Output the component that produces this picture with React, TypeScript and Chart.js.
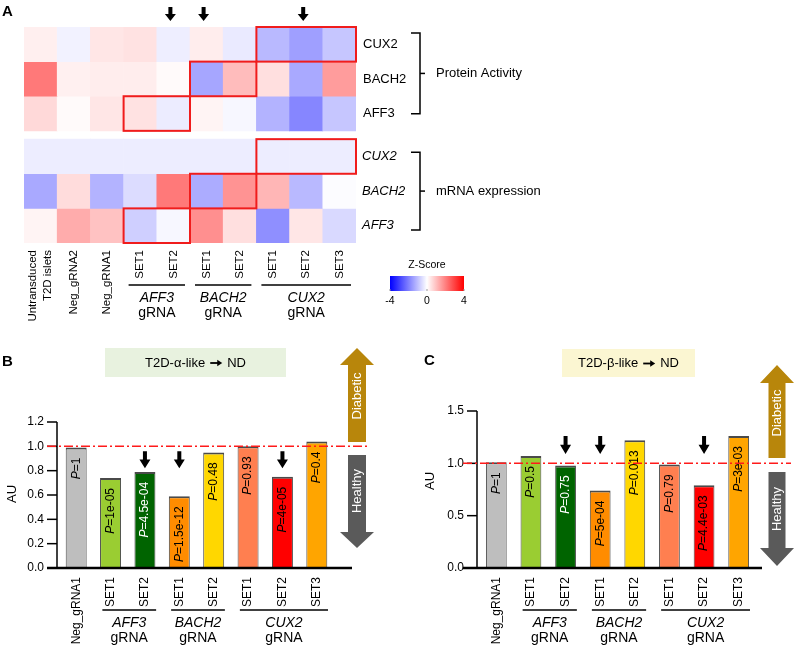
import React, { useEffect, useRef } from "react";
import { Chart, registerables } from "chart.js";

Chart.register(...registerables);

const FONT = '"Liberation Sans", Arial, Helvetica, sans-serif';
const W = 798;
const H = 662;

// ---------------- Panel A: heatmap data ----------------
const heatColumns = ["Untransduced\nT2D islets", "Neg_gRNA2", "Neg_gRNA1", "SET1", "SET2", "SET1", "SET2", "SET1", "SET2", "SET3"];
const heatRowLabels = ["CUX2", "BACH2", "AFF3"];
const proteinCUX2 = [0.25, -0.2, 0.4, 0.45, -0.27, 0.28, -0.33, -1.1, -1.5, -0.9];
const proteinBACH2 = [2.1, 0.24, 0.28, 0.28, 0.08, -1.4, 1.05, 0.5, -1.35, 1.55];
const proteinAFF3 = [0.6, 0.08, 0.4, 0.45, -0.3, 0.17, -0.13, -1.2, -1.9, -0.9];
const mrnaCUX2 = [-0.28, -0.28, -0.28, -0.28, -0.28, -0.28, -0.28, -0.28, -0.28, -0.28];
const mrnaBACH2 = [-1.35, 0.55, -1.2, -0.55, 2.1, -1.3, 1.7, 1.15, -1.1, -0.05];
const mrnaAFF3 = [0.17, 1.3, 0.95, -0.75, -0.12, 1.75, 0.5, -1.75, 0.4, -0.6];
const heatGroups = ["AFF3", "BACH2", "CUX2"];
const heatGroupStart = [3, 5, 7];
const heatGroupEnd = [4, 6, 9];
const heatArrowCols = [4, 5, 8];
const boxRows = [0, 1, 2, 3, 4, 5];
const boxStart = [7, 5, 3, 7, 5, 3];
const boxEnd = [9, 6, 4, 9, 6, 4];
const zTicks = [-4, 0, 4];
const Z_MAX = 4;

// ---------------- Panels B & C: bar data ----------------
const barCategories = ["Neg_gRNA1", "SET1", "SET2", "SET1", "SET2", "SET1", "SET2", "SET3"];
const barGroups = ["AFF3", "BACH2", "CUX2"];
const barGroupStart = [1, 3, 5];
const barGroupEnd = [2, 4, 7];
const barColors = ["#bebebe", "#9acd32", "#006400", "#ff8c00", "#ffd700", "#ff7f50", "#ff0000", "#ffa500"];
const alphaValues = [0.99, 0.74, 0.79, 0.59, 0.95, 1.0, 0.75, 1.04];
const alphaP = ["1", "1e-05", "4.5e-04", "1.5e-12", "0.48", "0.93", "4e-05", "0.4"];
const betaValues = [1.01, 1.07, 0.98, 0.74, 1.22, 0.99, 0.79, 1.26];
const betaP = ["1", "0.5", "0.75", "5e-04", "0.013", "0.79", "4.4e-03", "3e-03"];
const markedBars = [2, 3, 6];
const alphaTicks = [0, 0.2, 0.4, 0.6, 0.8, 1.0, 1.2];
const betaTicks = [0, 0.5, 1.0, 1.5];

// ---------------- helpers ----------------
const ROW_GAP = 0.24;
const rowStart = (r: number) => r + (r >= 3 ? ROW_GAP : 0);

function zColor(z: number): string {
  const t = Math.max(-1, Math.min(1, z / Z_MAX));
  if (t >= 0) {
    const g = Math.round(255 * (1 - t));
    return `rgb(255,${g},${g})`;
  }
  const g = Math.round(255 * (1 + t));
  return `rgb(${g},${g},255)`;
}

function text(ctx: CanvasRenderingContext2D, s: string, x: number, y: number, font: string, align: CanvasTextAlign = "left", color = "#000") {
  ctx.font = font;
  ctx.fillStyle = color;
  ctx.textAlign = align;
  ctx.textBaseline = "middle";
  ctx.fillText(s, x, y);
}

function rotTextEnd(ctx: CanvasRenderingContext2D, s: string, x: number, yEnd: number, font: string, color = "#000") {
  ctx.save();
  ctx.translate(x, yEnd);
  ctx.rotate(-Math.PI / 2);
  ctx.font = font;
  ctx.fillStyle = color;
  ctx.textAlign = "right";
  ctx.textBaseline = "middle";
  ctx.fillText(s, 0, 0);
  ctx.restore();
}

function rotTextCenter(ctx: CanvasRenderingContext2D, s: string, x: number, y: number, font: string, color = "#000") {
  ctx.save();
  ctx.translate(x, y);
  ctx.rotate(-Math.PI / 2);
  ctx.font = font;
  ctx.fillStyle = color;
  ctx.textAlign = "center";
  ctx.textBaseline = "middle";
  ctx.fillText(s, 0, 0);
  ctx.restore();
}

function pLabel(ctx: CanvasRenderingContext2D, p: string, x: number, yTop: number, color: string) {
  const fi = `italic 12px ${FONT}`;
  const fn = `12px ${FONT}`;
  ctx.save();
  ctx.translate(x, yTop);
  ctx.rotate(-Math.PI / 2);
  ctx.font = fi;
  const wP = ctx.measureText("P").width;
  ctx.font = fn;
  const rest = "=" + p;
  const wR = ctx.measureText(rest).width;
  ctx.textAlign = "left";
  ctx.textBaseline = "middle";
  ctx.fillStyle = color;
  ctx.font = fi;
  ctx.fillText("P", -(wP + wR), 0);
  ctx.font = fn;
  ctx.fillText(rest, -wR, 0);
  ctx.restore();
}

function arrowDown(ctx: CanvasRenderingContext2D, cx: number, top: number, headBase: number, tip: number, bodyW: number, headW: number, color: string) {
  ctx.fillStyle = color;
  ctx.beginPath();
  ctx.moveTo(cx - bodyW / 2, top);
  ctx.lineTo(cx + bodyW / 2, top);
  ctx.lineTo(cx + bodyW / 2, headBase);
  ctx.lineTo(cx + headW / 2, headBase);
  ctx.lineTo(cx, tip);
  ctx.lineTo(cx - headW / 2, headBase);
  ctx.lineTo(cx - bodyW / 2, headBase);
  ctx.closePath();
  ctx.fill();
}

function arrowUp(ctx: CanvasRenderingContext2D, cx: number, tip: number, headBase: number, bottom: number, bodyW: number, headW: number, color: string) {
  ctx.fillStyle = color;
  ctx.beginPath();
  ctx.moveTo(cx, tip);
  ctx.lineTo(cx + headW / 2, headBase);
  ctx.lineTo(cx + bodyW / 2, headBase);
  ctx.lineTo(cx + bodyW / 2, bottom);
  ctx.lineTo(cx - bodyW / 2, bottom);
  ctx.lineTo(cx - bodyW / 2, headBase);
  ctx.lineTo(cx - headW / 2, headBase);
  ctx.closePath();
  ctx.fill();
}

function line(ctx: CanvasRenderingContext2D, x0: number, y0: number, x1: number, y1: number, w = 1, color = "#000") {
  ctx.strokeStyle = color;
  ctx.lineWidth = w;
  ctx.beginPath();
  ctx.moveTo(x0, y0);
  ctx.lineTo(x1, y1);
  ctx.stroke();
}

// title text with a heavy arrow drawn between the two parts
function titleWithArrow(ctx: CanvasRenderingContext2D, left: string, right: string, cx: number, cy: number) {
  const font = `13px ${FONT}`;
  ctx.font = font;
  const wl = ctx.measureText(left).width;
  const wr = ctx.measureText(right).width;
  const gap = 5, aw = 12;
  const total = wl + gap + aw + gap + wr;
  let x = cx - total / 2;
  text(ctx, left, x, cy, font);
  x += wl + gap;
  ctx.fillStyle = "#000";
  ctx.fillRect(x, cy - 0.9, aw - 4, 1.8);
  ctx.beginPath();
  ctx.moveTo(x + aw - 5, cy - 3.2);
  ctx.lineTo(x + aw, cy);
  ctx.lineTo(x + aw - 5, cy + 3.2);
  ctx.closePath();
  ctx.fill();
  x += aw + gap;
  text(ctx, right, x, cy, font);
}

// ---------------- Panel A plugin ----------------
const heatPlugin = {
  id: "heatDecor",
  afterDatasetsDraw(chart: any) {
    const ctx: CanvasRenderingContext2D = chart.ctx;
    const xs = chart.scales.x;
    const ys = chart.scales.y;
    const colW = xs.getPixelForValue(1) - xs.getPixelForValue(0);
    const colC = (i: number) => xs.getPixelForValue(i);
    const colL = (i: number) => colC(i) - colW / 2;
    const rowTop = (r: number) => ys.getPixelForValue(rowStart(r));
    const rowBot = (r: number) => ys.getPixelForValue(rowStart(r) + 1);
    const rowMid = (r: number) => ys.getPixelForValue(rowStart(r) + 0.5);
    ctx.save();

    ctx.strokeStyle = "#f01c1c";
    ctx.lineWidth = 2;
    boxRows.forEach((r, k) => {
      const x0 = colL(boxStart[k]);
      const x1 = colL(boxEnd[k]) + colW;
      ctx.strokeRect(x0, rowTop(r), x1 - x0, rowBot(r) - rowTop(r));
    });

    text(ctx, "A", 2, 12, `bold 15px ${FONT}`);

    heatArrowCols.forEach((c) => arrowDown(ctx, colC(c) - 3, 7, 14, 21, 4, 11, "#000"));

    heatRowLabels.forEach((lab, r) => {
      text(ctx, lab, 363, rowMid(r), `13px ${FONT}`);
      text(ctx, lab, 362, rowMid(r + 3), `italic 13px ${FONT}`);
    });

    const bracket = (top: number, bot: number, label: string) => {
      ctx.lineWidth = 1.5;
      ctx.strokeStyle = "#000";
      ctx.beginPath();
      ctx.moveTo(411, top);
      ctx.lineTo(420, top);
      ctx.lineTo(420, bot);
      ctx.lineTo(411, bot);
      ctx.stroke();
      const mid = (top + bot) / 2;
      line(ctx, 420, mid, 425, mid, 1.5);
      text(ctx, label, 436, mid, `13px ${FONT}`);
    };
    bracket(rowTop(0) + 6, rowBot(2) - 17, "Protein Activity");
    bracket(rowTop(3) + 13, rowBot(5) - 13, "mRNA expression");

    const colFont = `11.5px ${FONT}`;
    heatColumns.forEach((lab, i) => {
      const parts = lab.split("\n");
      if (parts.length === 1) {
        rotTextEnd(ctx, lab, colC(i), 250, colFont);
      } else {
        rotTextEnd(ctx, parts[0], colC(i) - 8, 250, colFont);
        rotTextEnd(ctx, parts[1], colC(i) + 7, 250, colFont);
      }
    });

    heatGroups.forEach((g, k) => {
      const x0 = colL(heatGroupStart[k]) + 5;
      const x1 = colL(heatGroupEnd[k]) + colW - 5;
      line(ctx, x0, 285, x1, 285, 1.5);
      const cx = (x0 + x1) / 2;
      text(ctx, g, cx, 298, `italic 14px ${FONT}`, "center");
      text(ctx, "gRNA", cx, 313, `14px ${FONT}`, "center");
    });

    const cbL = 390, cbR = 464, cbT = 276, cbB = 291;
    const grad = ctx.createLinearGradient(cbL, 0, cbR, 0);
    grad.addColorStop(0, zColor(-Z_MAX));
    grad.addColorStop(0.5, zColor(0));
    grad.addColorStop(1, zColor(Z_MAX));
    ctx.fillStyle = grad;
    ctx.fillRect(cbL, cbT, cbR - cbL, cbB - cbT);
    text(ctx, "Z-Score", (cbL + cbR) / 2, 265, `10.5px ${FONT}`, "center");
    zTicks.forEach((t) => {
      const x = cbL + ((t + Z_MAX) / (2 * Z_MAX)) * (cbR - cbL);
      line(ctx, x, cbB - 2, x, cbB, 1, "#999");
      text(ctx, String(t), x, 301, `10.5px ${FONT}`, "center");
    });

    ctx.restore();
  },
};

// ---------------- Panels B/C plugin ----------------
interface BarCfg {
  letter: string; letterX: number; letterY: number;
  boxX: number; boxY: number; boxW: number; boxH: number; boxColor: string; boxLeft: string; boxRight: string;
  axisX: number; baseStart: number; baseEnd: number; redEnd: number;
  ticks: number[]; tickDigits: number;
  auX: number; auY: number;
  arrowTopVal: number; arrowTipVal: number;
  bigCx: number; bigBodyW: number; bigHeadW: number;
  upTip: number; upHeadBase: number; upBottom: number;
  downTop: number; downHeadBase: number; downTip: number;
  diabeticY: number; healthyY: number;
  pValues: string[];
}

function makeBarPlugin(cfg: BarCfg) {
  return {
    id: "barDecor" + cfg.letter,
    afterDatasetsDraw(chart: any) {
      const ctx: CanvasRenderingContext2D = chart.ctx;
      const xs = chart.scales.x;
      const ys = chart.scales.y;
      const colW = xs.getPixelForValue(1) - xs.getPixelForValue(0);
      const y0 = ys.getPixelForValue(0);
      ctx.save();

      text(ctx, cfg.letter, cfg.letterX, cfg.letterY, `bold 15px ${FONT}`);

      ctx.fillStyle = cfg.boxColor;
      ctx.fillRect(cfg.boxX, cfg.boxY, cfg.boxW, cfg.boxH);
      titleWithArrow(ctx, cfg.boxLeft, cfg.boxRight, cfg.boxX + cfg.boxW / 2, cfg.boxY + cfg.boxH / 2 + 0.5);

      const topVal = cfg.ticks[cfg.ticks.length - 1];
      line(ctx, cfg.axisX, ys.getPixelForValue(topVal), cfg.axisX, y0, 1.5);
      cfg.ticks.forEach((t) => {
        const y = ys.getPixelForValue(t);
        line(ctx, cfg.axisX - 10, y, cfg.axisX, y, 1.5);
        text(ctx, t.toFixed(cfg.tickDigits), cfg.axisX - 13, y, `12px ${FONT}`, "right");
      });
      line(ctx, cfg.baseStart, y0, cfg.baseEnd, y0, 2.5);
      rotTextCenter(ctx, "AU", cfg.auX, cfg.auY, `13px ${FONT}`);

      const meta = chart.getDatasetMeta(0);
      meta.data.forEach((bar: any, i: number) => {
        const col = barColors[i] === "#006400" ? "#fff" : "#000";
        pLabel(ctx, cfg.pValues[i], bar.x, bar.y + 10, col);
      });

      ctx.save();
      ctx.setLineDash([9, 3, 2, 3]);
      const y1 = ys.getPixelForValue(1);
      line(ctx, cfg.baseStart, y1, cfg.redEnd, y1, 1.5, "#ff1a1a");
      ctx.restore();

      const aTop = ys.getPixelForValue(cfg.arrowTopVal);
      const aTip = ys.getPixelForValue(cfg.arrowTipVal);
      markedBars.forEach((i) => {
        arrowDown(ctx, xs.getPixelForValue(i), aTop, aTop + (aTip - aTop) * 0.48, aTip, 4, 11, "#000");
      });

      barCategories.forEach((lab, i) => {
        rotTextEnd(ctx, lab, xs.getPixelForValue(i), 577, `12px ${FONT}`);
      });
      barGroups.forEach((g, k) => {
        const x0 = xs.getPixelForValue(barGroupStart[k]) - colW / 2 + 9;
        const x1 = xs.getPixelForValue(barGroupEnd[k]) + colW / 2 - 6;
        line(ctx, x0, 610, x1, 610, 1.5);
        const cx = (x0 + x1) / 2;
        text(ctx, g, cx, 623, `italic 14px ${FONT}`, "center");
        text(ctx, "gRNA", cx, 638, `14px ${FONT}`, "center");
      });

      arrowUp(ctx, cfg.bigCx, cfg.upTip, cfg.upHeadBase, cfg.upBottom, cfg.bigBodyW, cfg.bigHeadW, "#b8860b");
      rotTextCenter(ctx, "Diabetic", cfg.bigCx, cfg.diabeticY, `13px ${FONT}`, "#fff");
      arrowDown(ctx, cfg.bigCx, cfg.downTop, cfg.downHeadBase, cfg.downTip, cfg.bigBodyW, cfg.bigHeadW, "#5a5a5a");
      rotTextCenter(ctx, "Healthy", cfg.bigCx, cfg.healthyY, `13px ${FONT}`, "#fff");

      ctx.restore();
    },
  };
}

function barConfig(values: number[], maxY: number, padding: any, plugin: any, barPct: number) {
  return {
    type: "bar" as const,
    data: {
      labels: barCategories,
      datasets: [
        {
          data: values,
          backgroundColor: barColors,
          borderColor: "#4a4a4a",
          borderWidth: { top: 2, left: 1, right: 1, bottom: 0 },
          borderSkipped: false as any,
          barPercentage: barPct,
          categoryPercentage: 1,
        },
      ],
    },
    options: {
      responsive: false,
      maintainAspectRatio: false,
      animation: false as const,
      events: [],
      layout: { padding },
      plugins: { legend: { display: false }, tooltip: { enabled: false } },
      scales: {
        x: { type: "category" as const, display: false, offset: true },
        y: { type: "linear" as const, display: false, min: 0, max: maxY },
      },
    },
    plugins: [plugin],
  };
}

export default function App() {
  const refA = useRef<HTMLCanvasElement>(null);
  const refB = useRef<HTMLCanvasElement>(null);
  const refC = useRef<HTMLCanvasElement>(null);

  useEffect(() => {
    const heatRows = [proteinCUX2, proteinBACH2, proteinAFF3, mrnaCUX2, mrnaBACH2, mrnaAFF3];
    const chartA = new Chart(refA.current as HTMLCanvasElement, {
      type: "bar",
      data: {
        labels: heatColumns,
        datasets: heatRows.map((vals, r) => ({
          data: vals.map(() => [rowStart(r), rowStart(r) + 1]) as any,
          backgroundColor: vals.map(zColor),
          borderWidth: 0,
          grouped: false,
          barPercentage: 1,
          categoryPercentage: 1,
        })),
      },
      options: {
        responsive: false,
        maintainAspectRatio: false,
        animation: false,
        events: [],
        layout: { padding: { left: 24, right: W - 356, top: 27, bottom: H - 243 } },
        plugins: { legend: { display: false }, tooltip: { enabled: false } },
        scales: {
          x: { type: "category", display: false, offset: true },
          y: { type: "linear", display: false, min: 0, max: 6 + ROW_GAP, reverse: true },
        },
      },
      plugins: [heatPlugin],
    } as any);

    const pluginB = makeBarPlugin({
      letter: "B", letterX: 2, letterY: 362,
      boxX: 105, boxY: 348, boxW: 181, boxH: 29, boxColor: "#e8f2df", boxLeft: "T2D-\u03b1-like", boxRight: "ND",
      axisX: 57, baseStart: 47, baseEnd: 352, redEnd: 369,
      ticks: alphaTicks, tickDigits: 1,
      auX: 12, auY: 494,
      arrowTopVal: 0.96, arrowTipVal: 0.82,
      bigCx: 357, bigBodyW: 18, bigHeadW: 34,
      upTip: 348, upHeadBase: 365, upBottom: 442,
      downTop: 455, downHeadBase: 532, downTip: 548,
      diabeticY: 396, healthyY: 491,
      pValues: alphaP,
    });
    const chartB = new Chart(refB.current as HTMLCanvasElement,
      barConfig(alphaValues, 1.2, { left: 59, right: W - 334, top: 422, bottom: H - 568 }, pluginB, 0.61) as any);

    const pluginC = makeBarPlugin({
      letter: "C", letterX: 424, letterY: 361,
      boxX: 562, boxY: 349, boxW: 133, boxH: 28, boxColor: "#fbf6d2", boxLeft: "T2D-\u03b2-like", boxRight: "ND",
      axisX: 477, baseStart: 463, baseEnd: 762, redEnd: 791,
      ticks: betaTicks, tickDigits: 1,
      auX: 430, auY: 481,
      arrowTopVal: 1.26, arrowTipVal: 1.09,
      bigCx: 777, bigBodyW: 17, bigHeadW: 34,
      upTip: 365, upHeadBase: 383, upBottom: 458,
      downTop: 472, downHeadBase: 548, downTip: 566,
      diabeticY: 413, healthyY: 509,
      pValues: betaP,
    });
    const chartC = new Chart(refC.current as HTMLCanvasElement,
      barConfig(betaValues, 1.5, { left: 479, right: W - 756, top: 411, bottom: H - 568 }, pluginC, 0.6) as any);

    return () => {
      chartA.destroy();
      chartB.destroy();
      chartC.destroy();
    };
  }, []);

  const cs: React.CSSProperties = { position: "absolute", left: 0, top: 0, width: W, height: H };
  return (
    <div style={{ position: "absolute", left: 0, top: 0, width: W, height: H, background: "#fff", overflow: "hidden" }}>
      <canvas ref={refA} width={W} height={H} style={cs} />
      <canvas ref={refB} width={W} height={H} style={cs} />
      <canvas ref={refC} width={W} height={H} style={cs} />
    </div>
  );
}
